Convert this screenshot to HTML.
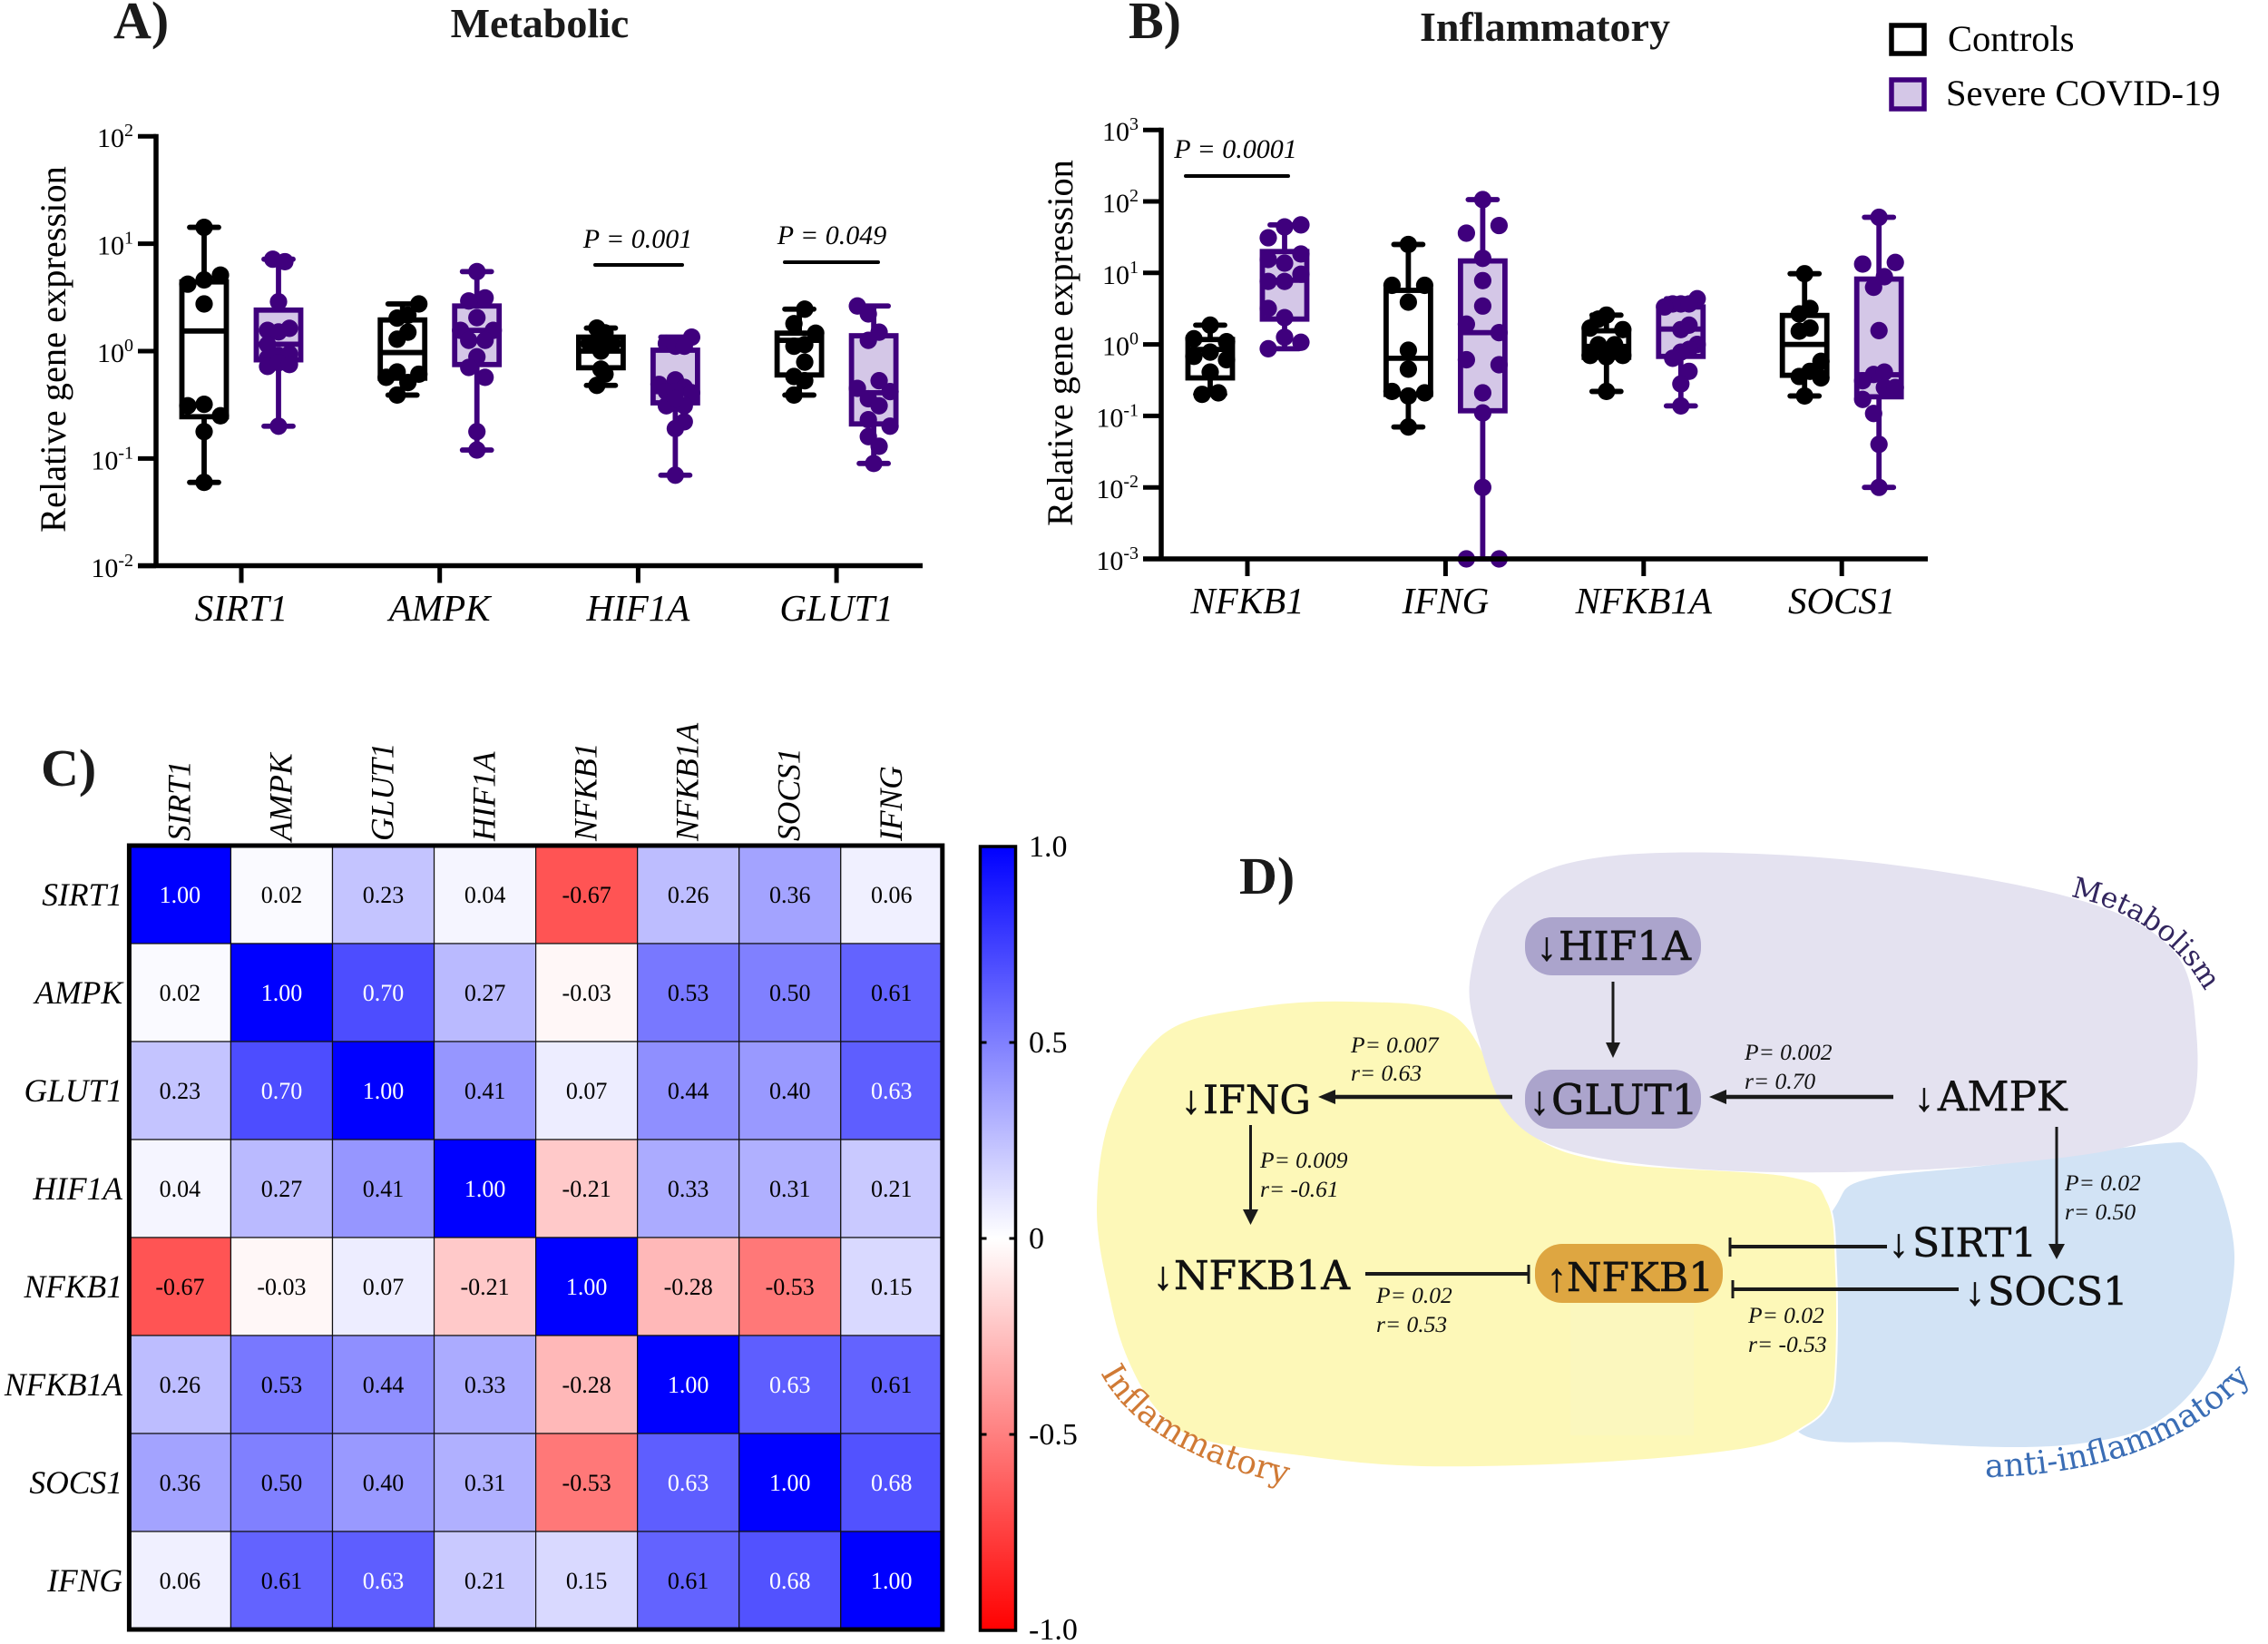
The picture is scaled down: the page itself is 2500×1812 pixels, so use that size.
<!DOCTYPE html>
<html lang="en">
<head>
<meta charset="utf-8">
<title>Gene expression in severe COVID-19</title>
<style>
html,body{margin:0;padding:0;background:#fff;width:2500px;height:1812px;overflow:hidden}
svg{display:block}
text{font-family:"Liberation Serif",serif;fill:#000}
.it{font-style:italic}
.bd{font-weight:700;fill:#1a1a1a}
.dj{font-family:"DejaVu Serif","Liberation Serif",serif;font-size:44px;fill:#111;stroke:#111;stroke-width:.6px}
.ar{font-family:"Liberation Serif",serif;font-size:44px}
.st{font-style:italic;font-size:25.5px;fill:#111}
.ln{stroke:#1a1a1a;fill:none}
.hd{fill:#1a1a1a}
</style>
</head>
<body>
<svg id="fig" xmlns="http://www.w3.org/2000/svg" width="2500" height="1812" viewBox="0 0 2500 1812">
  <g id="panelA">
    <text class="bd" x="125" y="42" font-size="58">A)</text>
    <text class="bd" x="595" y="41" font-size="46" text-anchor="middle">Metabolic</text>
    <text transform="translate(72 385) rotate(-90)" font-size="40.4" text-anchor="middle">Relative gene expression</text>
    <text class="it" x="703" y="273" font-size="30" text-anchor="middle">P = 0.001</text>
    <line x1="656" x2="752" y1="292" y2="292" stroke="#000" stroke-width="4" stroke-linecap="round"/>
    <text class="it" x="917" y="269" font-size="30" text-anchor="middle">P = 0.049</text>
    <line x1="865" x2="968" y1="289" y2="289" stroke="#000" stroke-width="4" stroke-linecap="round"/>
  </g>
  <g id="panelB">
    <text class="bd" x="1244" y="42" font-size="58">B)</text>
    <text class="bd" x="1703" y="45" font-size="46" text-anchor="middle">Inflammatory</text>
    <text transform="translate(1182 378) rotate(-90)" font-size="40.4" text-anchor="middle">Relative gene expression</text>
    <text class="it" x="1362" y="174" font-size="30" text-anchor="middle">P = 0.0001</text>
    <line x1="1307" x2="1420" y1="194" y2="194" stroke="#000" stroke-width="4" stroke-linecap="round"/>
  </g>
  <g id="legend">
    <rect x="2085" y="28" width="36" height="31" fill="#fff" stroke="#000" stroke-width="5.5"/>
    <text x="2147" y="56" font-size="40.5">Controls</text>
    <rect x="2085" y="88" width="36" height="32" fill="#d4c7e7" stroke="#3f007d" stroke-width="5.5"/>
    <text x="2145" y="116" font-size="40.5">Severe COVID-19</text>
  </g>
  <g id="panelC">
    <text class="bd" x="45" y="866" font-size="58">C)</text>
  </g>
  <g id="panelD">
    <path id="blobBlue" fill="#d2e3f5"/>
    <path id="blobYellow" fill="#fdf8b8" stroke="#fff" stroke-width="2"/>
    <rect x="1731" y="1434" width="136" height="148" fill="#fbf7be"/>
    <path id="blobLav" fill="#e4e2f0"/>
    <text class="bd" x="1366" y="985" font-size="58">D)</text>

    <rect x="1681" y="1011" width="194" height="64" rx="30" fill="#aba4cc"/>
    <rect x="1681" y="1179" width="194" height="65" rx="30" fill="#aba4cc"/>
    <rect x="1692" y="1371" width="207" height="65" rx="30" fill="#dea641"/>

    <text class="dj" y="1058"><tspan class="ar" x="1694">↓</tspan><tspan x="1718">HIF1A</tspan></text>
    <text class="dj" y="1228"><tspan class="ar" x="1686">↓</tspan><tspan x="1710" style="font-size:45.5px">GLUT1</tspan></text>
    <text class="dj" y="1224"><tspan class="ar" x="2110">↓</tspan><tspan x="2136" style="font-size:45px">AMPK</tspan></text>
    <text class="dj" y="1227"><tspan class="ar" x="1302">↓</tspan><tspan x="1326" style="font-size:43px">IFNG</tspan></text>
    <text class="dj" y="1421"><tspan class="ar" x="1271">↓</tspan><tspan x="1294">NFKB1A</tspan></text>
    <text class="dj" y="1423"><tspan class="ar" x="1705">↑</tspan><tspan x="1727">NFKB1</tspan></text>
    <text class="dj" y="1385"><tspan class="ar" x="2082">↓</tspan><tspan x="2108">SIRT1</tspan></text>
    <text class="dj" y="1438"><tspan class="ar" x="2166">↓</tspan><tspan x="2191" style="font-size:43px">SOCS1</tspan></text>

    <line class="ln" x1="1778" y1="1082" x2="1778" y2="1150" stroke-width="3"/>
    <polygon class="hd" points="1770,1149 1786,1149 1778,1166"/>
    <line class="ln" x1="2087" y1="1209" x2="1900" y2="1209" stroke-width="4.5"/>
    <polygon class="hd" points="1903,1201 1903,1217 1884,1209"/>
    <line class="ln" x1="1667" y1="1209" x2="1470" y2="1209" stroke-width="4.5"/>
    <polygon class="hd" points="1472,1201 1472,1217 1453,1209"/>
    <line class="ln" x1="1378.5" y1="1240" x2="1378.5" y2="1335" stroke-width="3"/>
    <polygon class="hd" points="1370,1333 1387,1333 1378.5,1350"/>
    <line class="ln" x1="2267" y1="1242" x2="2267" y2="1375" stroke-width="3"/>
    <polygon class="hd" points="2258,1371 2276,1371 2267,1388"/>
    <line class="ln" x1="1505" y1="1404" x2="1685" y2="1404" stroke-width="4"/>
    <line class="ln" x1="1685" y1="1394" x2="1685" y2="1415" stroke-width="3"/>
    <line class="ln" x1="2080" y1="1374" x2="1907" y2="1374" stroke-width="4"/>
    <line class="ln" x1="1907" y1="1364" x2="1907" y2="1385" stroke-width="3"/>
    <line class="ln" x1="2159" y1="1421" x2="1910" y2="1421" stroke-width="4"/>
    <line class="ln" x1="1910" y1="1411" x2="1910" y2="1431" stroke-width="3"/>

    <text class="st" x="1489" y="1160">P= 0.007</text>
    <text class="st" x="1489" y="1191">r= 0.63</text>
    <text class="st" x="1923" y="1168">P= 0.002</text>
    <text class="st" x="1923" y="1200">r= 0.70</text>
    <text class="st" x="1389" y="1287">P= 0.009</text>
    <text class="st" x="1389" y="1319">r= -0.61</text>
    <text class="st" x="2276" y="1312">P= 0.02</text>
    <text class="st" x="2276" y="1344">r= 0.50</text>
    <text class="st" x="1517" y="1436">P= 0.02</text>
    <text class="st" x="1517" y="1468">r= 0.53</text>
    <text class="st" x="1927" y="1458">P= 0.02</text>
    <text class="st" x="1927" y="1490">r= -0.53</text>

    <path id="curveMeta" d="M2282 988 Q2385 1010 2432 1095" fill="none"/>
    <path id="curveInfl" d="M1213 1513 Q1262 1606 1445 1642" fill="none"/>
    <path id="curveAnti" d="M2188 1628 Q2380 1625 2480 1520" fill="none"/>
    <text style="font-family:'DejaVu Serif',serif;font-size:31.5px;fill:#33265f"><textPath href="#curveMeta">Metabolism</textPath></text>
    <text style="font-family:'DejaVu Serif',serif;font-size:36px;fill:#d07a35"><textPath href="#curveInfl">Inflammatory</textPath></text>
    <text style="font-family:'DejaVu Serif',serif;font-size:35.5px;fill:#3a6db5"><textPath href="#curveAnti">anti-inflammatory</textPath></text>
  </g>
</svg>
<script>
// ---------- Panel A data ----------
const metabolicGenes = ['SIRT1', 'AMPK', 'HIF1A', 'GLUT1'];
const metabolicTickExponents = [2, 1, 0, -1, -2];
const metabolicControlValues = [
  [14.2, 5.1, 4.6, 4.2, 2.75, 0.32, 0.31, 0.25, 0.178, 0.06],
  [2.75, 2.03, 2.16, 1.5, 1.29, 0.64, 0.57, 0.61, 0.51, 0.39],
  [1.64, 1.48, 1.18, 1.18, 1.26, 1.0, 0.68, 0.61, 0.48],
  [2.46, 1.8, 1.47, 1.11, 1.15, 0.79, 0.58, 0.53, 0.39]
];
const metabolicControlSlots = [
  [0, 1, 0, -1, 0, 0, -1, 1, 0, 0],
  [1, -0.33, 0.33, 0.33, -0.33, -0.33, -1, 1, 0.33, -0.33],
  [-0.25, 0.25, -0.7, 0.7, 0, 0, 0, 0.25, -0.25],
  [0.33, -0.33, 1, -0.33, 0.33, 0.33, -0.33, 0.33, -0.33]
];
const metabolicCovidValues = [
  [7.17, 6.8, 2.88, 1.56, 1.51, 1.63, 1.15, 0.91, 0.94, 0.86, 0.72, 0.78, 0.75, 0.2],
  [5.5, 2.93, 3.13, 2.05, 1.56, 1.56, 1.26, 1.26, 0.885, 0.705, 0.57, 0.178, 0.12],
  [1.35, 1.18, 1.11, 1.11, 0.54, 0.49, 0.42, 0.46, 0.41, 0.42, 0.31, 0.31, 0.36, 0.22, 0.19, 0.07],
  [2.63, 2.22, 1.5, 1.26, 0.53, 0.45, 0.42, 0.36, 0.31, 0.23, 0.2, 0.16, 0.13, 0.09]
];
const metabolicCovidSlots = [
  [-0.35, 0.39, 0, -0.67, 0, 0.67, -0.67, 0, 0.67, -0.67, -0.67, 0, 0.67, 0],
  [0, -0.5, 0.5, 0, -1, 1, -0.5, 0.5, 0, -0.5, 0.5, 0, 0],
  [1, -0.55, 0, 0.55, 0, -1, -0.55, 0.55, 1, 0, -0.55, 0.55, 0, 0.55, 0, 0],
  [-1, -0.33, 0.33, -0.33, 0.33, -1, 1, -0.33, 0.33, -0.33, 1, -0.33, 0.33, 0]
];
const metabolicControlQ1 = [0.245, 0.56, 0.7, 0.6];
const metabolicControlMedian = [1.54, 0.97, 1.0, 1.26];
const metabolicControlQ3 = [4.41, 1.95, 1.35, 1.47];
const metabolicCovidQ1 = [0.83, 0.75, 0.33, 0.21];
const metabolicCovidMedian = [1.16, 1.56, 0.42, 0.41];
const metabolicCovidQ3 = [2.41, 2.63, 1.02, 1.39];

// ---------- Panel B data ----------
const inflammatoryGenes = ['NFKB1', 'IFNG', 'NFKB1A', 'SOCS1'];
const inflammatoryTickExponents = [3, 2, 1, 0, -1, -2, -3];
const inflammatoryControlValues = [
  [1.86, 1.2, 1.09, 0.78, 0.68, 0.61, 0.41, 0.2, 0.21],
  [25, 6.7, 6.7, 3.9, 0.83, 0.45, 0.22, 0.21, 0.19, 0.07],
  [2.57, 2.26, 1.69, 1.61, 0.99, 0.99, 0.7, 0.7, 0.67, 0.22],
  [9.75, 3.18, 2.67, 1.69, 1.53, 0.58, 0.42, 0.356, 0.34, 0.19]
];
const inflammatoryControlSlots = [
  [0, -1, 1, 0, -1, 1, 0, -0.5, 0.5],
  [0, -1, 1, 0, 0, 0, -1, 1, 0, 0],
  [0, -0.5, -1, 1, -0.5, 0.5, -1, 1, 0, 0],
  [0, 0.33, -0.33, 0.33, -0.33, 1, 0.33, -0.33, 1, 0]
];
const inflammatoryCovidValues = [
  [44, 47, 31, 18.4, 15.4, 13.7, 9.6, 7.6, 7.6, 3.18, 2.37, 1.26, 1.07, 0.87],
  [106, 46, 36, 16, 7.8, 3.44, 1.92, 1.46, 0.61, 0.52, 0.21, 0.11, 0.01, 0.001, 0.001],
  [4.35, 3.68, 3.68, 3.68, 3.34, 1.61, 1.86, 1.0, 0.85, 0.78, 0.64, 0.42, 0.28, 0.138],
  [60, 13.3, 14, 8.85, 6.3, 1.56, 0.38, 0.41, 0.31, 0.25, 0.25, 0.17, 0.108, 0.04, 0.01]
];
const inflammatoryCovidSlots = [
  [0, 1, -1, 1, -1, 0, 1, -1, 0, -1, 0, 0, 1, -1],
  [0, 1, -1, 0, 0, 0, -1, 1, -1, 1, 0, 0, 0, -1, 1],
  [1, -0.5, 0, 0.5, -1, 0, 0.5, 1, 0.5, 0, -0.5, 0.5, 0, 0],
  [0, -1, 1, 0.33, -0.33, 0, -0.33, 0.33, -1, 0.33, 1, -1, -0.33, 0, 0]
];
const inflammatoryControlQ1 = [0.34, 0.2, 0.66, 0.37];
const inflammatoryControlMedian = [0.85, 0.64, 0.94, 1.0];
const inflammatoryControlQ3 = [1.17, 5.7, 1.55, 2.54];
const inflammatoryCovidQ1 = [2.26, 0.118, 0.68, 0.185];
const inflammatoryCovidMedian = [7.9, 1.46, 1.64, 0.377];
const inflammatoryCovidQ3 = [19.9, 14.7, 3.34, 8.2];

// ---------- Panel C data ----------
const heatmapGenes = ['SIRT1', 'AMPK', 'GLUT1', 'HIF1A', 'NFKB1', 'NFKB1A', 'SOCS1', 'IFNG'];
const heatmapValues = [
  [1.00, 0.02, 0.23, 0.04, -0.67, 0.26, 0.36, 0.06],
  [0.02, 1.00, 0.70, 0.27, -0.03, 0.53, 0.50, 0.61],
  [0.23, 0.70, 1.00, 0.41, 0.07, 0.44, 0.40, 0.63],
  [0.04, 0.27, 0.41, 1.00, -0.21, 0.33, 0.31, 0.21],
  [-0.67, -0.03, 0.07, -0.21, 1.00, -0.28, -0.53, 0.15],
  [0.26, 0.53, 0.44, 0.33, -0.28, 1.00, 0.63, 0.61],
  [0.36, 0.50, 0.40, 0.31, -0.53, 0.63, 1.00, 0.68],
  [0.06, 0.61, 0.63, 0.21, 0.15, 0.61, 0.68, 1.00]
];
const colorbarTicks = [1.0, 0.5, 0, -0.5, -1.0];
const colorbarTickLabels = ['1.0', '0.5', '0', '-0.5', '-1.0'];

// ---------- Helpers ----------
const SVGNS = 'http://www.w3.org/2000/svg';
const BLACK = '#000';
const PURPLE = '#3f007d';
const LILAC = '#d4c7e7';
function mk(tag, parent, props) {
  const el = document.createElementNS(SVGNS, tag);
  for (const k in props) el.setAttribute(k, props[k]);
  parent.appendChild(el);
  return el;
}
function logScale(zeroY, decade) {
  return function (v) { return zeroY - decade * Math.log10(v); };
}

function drawBoxGroup(g, gene, groupName, cx, y, values, slots, q1, med, q3, stroke, fill) {
  const halfBox = 24.5, halfCap = 16, slotPx = 18, sw = 5.8;
  const maxV = Math.max.apply(null, values);
  const minV = Math.min.apply(null, values);
  const prefix = gene.toLowerCase() + '-' + groupName;

  const whisker = mk('line', g, {x1: cx, x2: cx, y1: y(maxV), y2: y(minV), stroke: stroke, 'stroke-width': sw});
  
  

  const capTop = mk('line', g, {x1: cx - halfCap, x2: cx + halfCap, y1: y(maxV), y2: y(maxV), stroke: stroke, 'stroke-width': sw, 'stroke-linecap': 'round'});
  
  

  const capBottom = mk('line', g, {x1: cx - halfCap, x2: cx + halfCap, y1: y(minV), y2: y(minV), stroke: stroke, 'stroke-width': sw, 'stroke-linecap': 'round'});
  
  

  const box = mk('rect', g, {x: cx - halfBox, width: halfBox * 2, y: y(q3), height: y(q1) - y(q3), fill: fill, stroke: stroke, 'stroke-width': sw});
  
  

  const median = mk('line', g, {x1: cx - halfBox, x2: cx + halfBox, y1: y(med), y2: y(med), stroke: stroke, 'stroke-width': sw});
  
  

  values.forEach(function (v, i) {
    const dot = mk('circle', g, {cx: cx + slots[i] * slotPx, cy: y(v), r: 9.6, fill: stroke});
    
    
  });
}

function drawAxes(g, opts, y, genes, exponents) {
  const yAxis = mk('line', g, {x1: opts.axisX, x2: opts.axisX, y1: y(Math.pow(10, exponents[0])) - 2.5, y2: opts.axisY + 2.5, stroke: BLACK, 'stroke-width': 5.5});
  
  

  const xAxis = mk('line', g, {x1: opts.axisX - 20, x2: opts.axisEnd, y1: opts.axisY, y2: opts.axisY, stroke: BLACK, 'stroke-width': 5.5});
  
  

  exponents.forEach(function (exp) {
    const ty = y(Math.pow(10, exp));
    const tick = mk('line', g, {x1: opts.axisX - 20, x2: opts.axisX, y1: ty, y2: ty, stroke: BLACK, 'stroke-width': 5});
    
    
    const label = mk('text', g, {x: opts.axisX - 25, y: ty + 12, 'font-size': 30, 'text-anchor': 'end'});
    
    
    const base = mk('tspan', label, {});
    base.textContent = '10';
    const sup = mk('tspan', label, {dy: -12, 'font-size': 20});
    sup.textContent = String(exp);
  });

  genes.forEach(function (gene, i) {
    const tx = opts.tick0 + i * opts.step;
    const tick = mk('line', g, {x1: tx, x2: tx, y1: opts.axisY, y2: opts.axisY + 19, stroke: BLACK, 'stroke-width': 5});
    
    
    const label = mk('text', g, {x: tx, y: opts.labelY, 'font-size': 41, 'font-style': 'italic', 'text-anchor': 'middle'});
    
    
    label.textContent = gene;
  });
}

function drawPanel(gId, opts, genes, exponents, ctrlV, ctrlS, covV, covS, cQ1, cMed, cQ3, pQ1, pMed, pQ3) {
  const g = document.getElementById(gId);
  const y = logScale(opts.zeroY, opts.decade);
  genes.forEach(function (gene, i) {
    const tx = opts.tick0 + i * opts.step;
    drawBoxGroup(g, gene, 'control', tx - 41, y, ctrlV[i], ctrlS[i], cQ1[i], cMed[i], cQ3[i], BLACK, '#fff');
    drawBoxGroup(g, gene, 'covid', tx + 41, y, covV[i], covS[i], pQ1[i], pMed[i], pQ3[i], PURPLE, LILAC);
  });
  drawAxes(g, opts, y, genes, exponents);
}

drawPanel('panelA', {zeroY: 387, decade: 118.4, axisX: 172, axisY: 623.5, axisEnd: 1017, tick0: 266, step: 218.7, labelY: 684},
  metabolicGenes, metabolicTickExponents, metabolicControlValues, metabolicControlSlots, metabolicCovidValues, metabolicCovidSlots,
  metabolicControlQ1, metabolicControlMedian, metabolicControlQ3, metabolicCovidQ1, metabolicCovidMedian, metabolicCovidQ3);
drawPanel('panelB', {zeroY: 379.6, decade: 78.8, axisX: 1280, axisY: 616, axisEnd: 2125, tick0: 1375, step: 218.4, labelY: 676},
  inflammatoryGenes, inflammatoryTickExponents, inflammatoryControlValues, inflammatoryControlSlots, inflammatoryCovidValues, inflammatoryCovidSlots,
  inflammatoryControlQ1, inflammatoryControlMedian, inflammatoryControlQ3, inflammatoryCovidQ1, inflammatoryCovidMedian, inflammatoryCovidQ3);

// ---------- Panel C ----------
(function () {
  const g = document.getElementById('panelC');
  const x0 = 142.4, y0 = 932, cw = 112.05, ch = 108;
  function cellColor(v) {
    const c = Math.round(255 * (1 - Math.abs(v)));
    return v >= 0 ? 'rgb(' + c + ',' + c + ',255)' : 'rgb(255,' + c + ',' + c + ')';
  }
  heatmapValues.forEach(function (row, r) {
    row.forEach(function (v, c) {
      const cell = mk('rect', g, {x: x0 + c * cw, y: y0 + r * ch, width: cw, height: ch, fill: cellColor(v), stroke: '#111', 'stroke-width': 1.2});
      
      
      const t = mk('text', g, {x: x0 + (c + 0.5) * cw, y: y0 + (r + 0.5) * ch + 9, 'font-size': 26, 'text-anchor': 'middle'});
      t.style.fill = v >= 0.62 ? '#fff' : '#000';
      t.textContent = v.toFixed(2);
      
      
    });
  });
  const frame = mk('rect', g, {x: x0, y: y0, width: cw * 8, height: ch * 8, fill: 'none', stroke: '#000', 'stroke-width': 5});
  
  

  heatmapGenes.forEach(function (gene, i) {
    const rowLabel = mk('text', g, {x: 135, y: y0 + (i + 0.5) * ch + 12, 'font-size': 35.5, 'font-style': 'italic', 'text-anchor': 'end'});
    rowLabel.textContent = gene;
    
    
    const colLabel = mk('text', g, {transform: 'translate(' + (x0 + (i + 0.5) * cw + 11) + ' 927) rotate(-90)', 'font-size': 35.5, 'font-style': 'italic'});
    colLabel.textContent = gene;
    
    
  });

  // colour bar
  const defs = mk('defs', g, {});
  const grad = mk('linearGradient', defs, {id: 'cbGrad', x1: 0, x2: 0, y1: 0, y2: 1});
  [[0, '#0000ff'], [0.5, '#ffffff'], [1, '#ff0000']].forEach(function (s) {
    mk('stop', grad, {offset: s[0], 'stop-color': s[1]});
  });
  const barX = 1080.5, barW = 39, barTop = 933, barH = 864;
  const bar = mk('rect', g, {x: barX, y: barTop, width: barW, height: barH, fill: 'url(#cbGrad)', stroke: '#000', 'stroke-width': 3.5});
  
  
  function barY(v) { return barTop + (1 - v) / 2 * barH; }
  colorbarTicks.forEach(function (v, i) {
    if (Math.abs(v) < 1) {
      const left = mk('line', g, {x1: barX, x2: barX + 7, y1: barY(v), y2: barY(v), stroke: '#000', 'stroke-width': 3});
      
      
      const right = mk('line', g, {x1: barX + barW - 7, x2: barX + barW, y1: barY(v), y2: barY(v), stroke: '#000', 'stroke-width': 3});
      
      
    }
    const off = v === 1 ? 11 : v === -1 ? 10 : 11;
    const lab = mk('text', g, {x: 1134, y: barY(v) + off, 'font-size': 34});
    lab.textContent = colorbarTickLabels[i];
    
    
  });
})();

// ---------- Panel D region outlines (smoothed closed curves) ----------
function smoothClosed(pts) {
  const n = pts.length;
  let d = 'M' + pts[0][0] + ' ' + pts[0][1];
  for (let i = 0; i < n; i++) {
    const p0 = pts[(i - 1 + n) % n], p1 = pts[i], p2 = pts[(i + 1) % n], p3 = pts[(i + 2) % n];
    const c1x = p1[0] + (p2[0] - p0[0]) / 6, c1y = p1[1] + (p2[1] - p0[1]) / 6;
    const c2x = p2[0] - (p3[0] - p1[0]) / 6, c2y = p2[1] - (p3[1] - p1[1]) / 6;
    d += ' C' + c1x.toFixed(1) + ' ' + c1y.toFixed(1) + ' ' + c2x.toFixed(1) + ' ' + c2y.toFixed(1) + ' ' + p2[0] + ' ' + p2[1];
  }
  return d + 'Z';
}
document.getElementById('blobYellow').setAttribute('d', smoothClosed([[1208,1333],[1225,1225],[1283,1138],[1380,1110],[1490,1103],[1598,1116],[1648,1182],[1689,1250],[1780,1281],[1971,1296],[2015,1325],[2024,1400],[2024,1500],[2017,1545],[1990,1572],[1930,1596],[1770,1612],[1567,1617],[1433,1605],[1323,1587],[1277,1557],[1243,1500],[1223,1433]]));
document.getElementById('blobLav').setAttribute('d', smoothClosed([[1621,1075],[1660,985],[1780,943],[2029,947],[2278,988],[2394,1046],[2421,1138],[2411,1230],[2344,1264],[2195,1284],[2029,1292],[1863,1288],[1731,1269],[1664,1230],[1631,1150]]));
document.getElementById('blobBlue').setAttribute('d', smoothClosed([[2023,1330],[2057,1300],[2195,1284],[2377,1261],[2415,1265],[2443,1300],[2463,1383],[2447,1477],[2417,1533],[2367,1573],[2300,1590],[2217,1595],[2100,1590],[1985,1580],[1960,1500],[1990,1400]]));
</script>
</body>
</html>
